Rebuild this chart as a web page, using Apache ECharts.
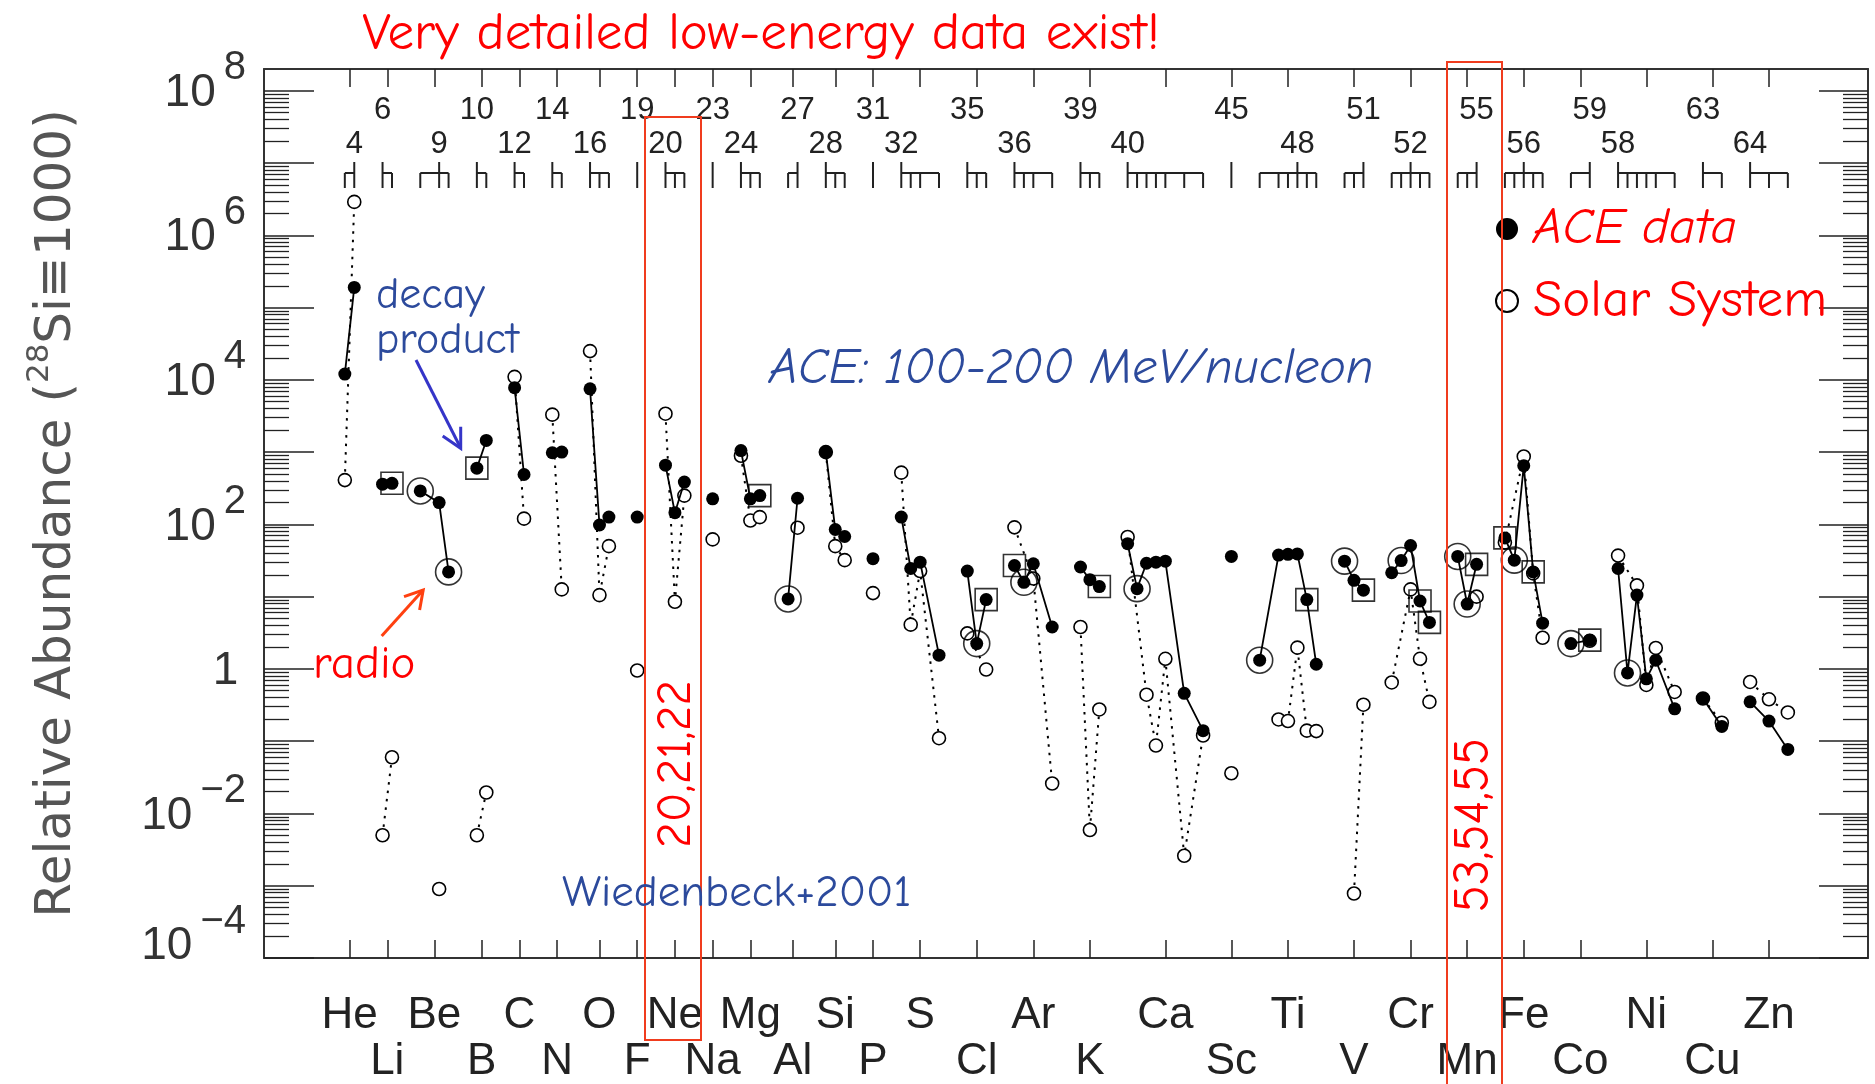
<!DOCTYPE html>
<html><head><meta charset="utf-8">
<script src="https://cdn.jsdelivr.net/npm/echarts@6/dist/echarts.min.js"></script>
<style>html,body{margin:0;padding:0;background:#fff}#c{width:1875px;height:1084px}</style>
</head><body><div id="c"></div>
<script>
// ---------------- data ----------------
const elementNames = ['He','Li','Be','B','C','N','O','F','Ne','Na','Mg','Al','Si','P','S','Cl','Ar','K','Ca','Sc','Ti','V','Cr','Mn','Fe','Co','Ni','Cu','Zn'];
const elementZ = [2,3,4,5,6,7,8,9,10,11,12,13,14,15,16,17,18,19,20,21,22,23,24,25,26,27,28,29,30];
// isotope layout on the x axis: first slot of each element, lightest and heaviest mass drawn
const elementStartX = [0,4,8,14,18,22,26,31,34,39,42,47,51,56,59,66,71,78,83,94,97,106,111,118,123,130,135,144,149];
const elementFirstMass = [3,6,7,10,12,14,16,19,20,23,24,26,28,31,32,35,36,39,40,45,44,49,50,53,54,57,58,63,64];
const elementLastMass  = [4,7,10,11,13,15,18,19,22,23,26,27,30,31,36,37,40,41,48,45,50,51,54,55,58,59,64,65,68];
// mass number printed on the top axis for each element
const labelMass = [4,6,9,10,12,14,16,19,20,23,24,27,28,31,32,35,36,39,40,45,48,51,52,55,56,59,58,63,64];
// isotopes marked in the small glyph row under the top axis
const glyphIsotopes = [[3,4],[6,7],[7,9,10],[10,11],[12,13],[14,15],[16,17,18],[19],[20,21,22],[23],[24,25,26],[26,27],[28,29,30],[31],[32,33,34,36],[35,36,37],[36,37,38,40],[39,40,41],[40,41,42,43,44,46,48],[45],[44,46,47,48,49,50],[49,50,51],[50,51,52,53,54],[53,54,55],[54,55,56,57,58],[57,59],[58,59,60,61,62,64],[63,65],[64,66,68]];

// ACE measured abundances (filled points)
const aceMass = [[3,4],[6,7],[7,9,10],[10,11],[12,13],[14,15],[16,17,18],[19],[20,21,22],[23],[24,25,26],[26,27],[28,29,30],[31],[32,33,34,36],[35,36,37],[36,37,38,40],[39,40,41],[40,41,42,43,44,46,48],[45],[44,46,47,48,49,50],[49,50,51],[50,51,52,53,54],[53,54,55],[54,55,56,57,58],[57,59],[58,59,60,61,62,64],[63,65],[64,66,68]];
const aceValue = [[1.2e4,1.9e5],[360,370],[290,200,22],[600,1450],[7800,490],[980,1000],[7500,98,126],[126],[660,145,385],[226],[1050,226,250],[9.3,230],[1000,85,68],[33.5],[126,24.5,30,1.55],[22.6,2.24,9.1],[27,15.8,28.5,3.8],[25.7,17.2,13.8],[54,12.9,29,30,31,0.46,0.14],[36],[1.32,37.6,38.5,39,9.1,1.16],[31,16.8,12.3],[21.4,31.6,51,8.7,4.4],[36,7.9,28],[65,32,650,22,4.3],[2.24,2.5],[24.5,0.88,10.5,0.73,1.32,0.28],[0.39,0.16],[0.35,0.19,0.077]];
// Solar System abundances (open points)
const solarMass = [[3,4],[6,7],[9],[10,11],[12,13],[14,15],[16,17,18],[19],[20,21,22],[23],[24,25,26],[27],[28,29,30],[31],[32,33,34,36],[35,37],[36,38,40],[39,40,41],[40,42,43,44,46,48],[45],[46,47,48,49,50],[50,51],[50,52,53,54],[55],[54,56,57,58],[59],[58,60,61,62,64],[63,65],[64,66,68]];
const solarValue = [[410,2.9e6],[5e-3,6e-2],[9e-4],[5e-3,1.95e-2],[1.1e4,120],[3300,12.6],[2.5e4,10.5,50],[0.95],[3400,8.5,250],[62],[890,113,126],[90],[1000,50,32],[11.2],[520,4.1,22.6,0.11],[3.1,0.98],[91,17.8,0.026],[3.8,5.9e-3,0.275],[67,0.44,0.087,1.38,2.6e-3,0.12],[0.036],[0.20,0.19,1.97,0.14,0.138],[7.8e-4,0.32],[0.65,12.6,1.38,0.35],[10],[56,870,21,2.7],[2.45],[37,14.3,0.6,1.95,0.48],[0.39,0.18],[0.66,0.38,0.25]];
// special markers
const radioIsotopes = [['Be',7],['Be',10],['Al',26],['Cl',36],['Ar',37],['Ca',41],['Ti',44],['V',49],['Cr',51],['Mn',53],['Mn',54],['Fe',55],['Co',57],['Ni',59]];
const decayProductIsotopes = [['Li',7],['B',10],['Mg',26],['Cl',37],['Ar',36],['K',41],['Ti',49],['V',51],['Cr',53],['Cr',54],['Mn',55],['Fe',54],['Fe',57],['Co',59]];
// y axis ticks
const yMajorTicks = [1e-4,1e-3,1e-2,1e-1,1,1e1,1e2,1e3,1e4,1e5,1e6,1e7,1e8];
const yLabelTicks = [1e-2,1,1e2,1e4,1e6,1e8];
const yBottomLabelTicks = [1e-4];
const yMinorTicks = [];
for (let n = -4; n <= 7; n++) for (let k = 2; k <= 9; k++) yMinorTicks.push(k * Math.pow(10, n));

// ---------------- helpers ----------------
const FONT_AXIS = '"Liberation Sans", Arial, sans-serif';
const FONT_NOTE = '"Comic Sans MS", "Comic Neue", "Noto Sans", sans-serif';
const slotOf = (i, A) => elementStartX[i] + (A - elementFirstMass[i]);
const elementCenters = elementNames.map((_, i) => (slotOf(i, elementFirstMass[i]) + slotOf(i, elementLastMass[i])) / 2);
const evenCenters = elementCenters.filter((c, i) => elementZ[i] % 2 === 0);
const oddCenters = elementCenters.filter((c, i) => elementZ[i] % 2 === 1);
const labelSlots = labelMass.map((A, i) => slotOf(i, A));
const bottomLabelMap = {}, topLabelMap = {};
elementCenters.forEach((c, i) => { bottomLabelMap[c.toFixed(2)] = elementNames[i]; });
labelSlots.forEach((s, i) => { topLabelMap[s.toFixed(2)] = (elementZ[i] % 2 === 0 ? '\n' : '') + labelMass[i]; });
const aceOf = (el, A) => { const i = elementNames.indexOf(el); return [slotOf(i, A), aceValue[i][aceMass[i].indexOf(A)]]; };

const X_MIN = -8.57, X_MAX = 161.5;
const Y_MIN = 1e-4, Y_MAX = 2e8;
const AX = '#333';

const series = [];
// glyph row (isotope marks) under the top axis
series.push({
  type: 'custom', xAxisIndex: 0, yAxisIndex: 0, silent: true, z: 2, clip: false,
  data: elementCenters.map(c => [c, 1]),
  renderItem: (params, api) => {
    const i = params.dataIndex;
    const top = params.coordSys.y;
    const px = A => api.coord([slotOf(i, A), 1])[0];
    const isos = glyphIsotopes[i];
    const barY = top + 104, baseY = top + 119, tallY = top + 93;
    const st = { stroke: '#222', lineWidth: 2 };
    const ch = [];
    if (isos.length > 1) ch.push({ type: 'line', shape: { x1: px(isos[0]), y1: barY, x2: px(isos[isos.length - 1]), y2: barY }, style: st });
    isos.forEach(A => ch.push({ type: 'line', shape: { x1: px(A), y1: A === labelMass[i] ? tallY : barY, x2: px(A), y2: baseY }, style: st }));
    return { type: 'group', children: ch };
  }
});
elementNames.forEach((el, i) => {
  series.push({
    name: 'Solar System', type: 'line', z: 3, animation: false,
    data: solarMass[i].map((A, j) => [slotOf(i, A), solarValue[i][j]]),
    symbol: 'circle', symbolSize: 13,
    itemStyle: { color: '#fff', borderColor: '#000', borderWidth: 1.6 },
    lineStyle: { color: '#000', width: 2, type: [2.5, 6] },
    emphasis: { disabled: true }
  });
});
elementNames.forEach((el, i) => {
  series.push({
    name: 'ACE data', type: 'line', z: 5, animation: false,
    data: aceMass[i].map((A, j) => [slotOf(i, A), aceValue[i][j]]),
    symbol: 'circle', symbolSize: 13,
    itemStyle: { color: '#000' },
    lineStyle: { color: '#000', width: 1.8 },
    emphasis: { disabled: true }
  });
});
series.push({
  name: 'radio', type: 'scatter', z: 6, animation: false,
  data: radioIsotopes.map(([el, A]) => aceOf(el, A)),
  symbol: 'circle', symbolSize: 26,
  itemStyle: { color: 'rgba(0,0,0,0)', borderColor: '#000', borderWidth: 1.6 },
  emphasis: { disabled: true }
});
series.push({
  name: 'decay', type: 'scatter', z: 6, animation: false,
  data: decayProductIsotopes.map(([el, A]) => aceOf(el, A)),
  symbol: 'rect', symbolSize: 22,
  itemStyle: { color: 'rgba(0,0,0,0)', borderColor: '#000', borderWidth: 1.6 },
  emphasis: { disabled: true }
});

const yLabelFmt = v => {
  const e = Math.round(Math.log10(v));
  if (e === 0) return '{b|1}{e|  }';
  return '{b|10}{s|' + (e < 0 ? '\u2212' : '') + Math.abs(e) + '}';
};
const yRich = {
  b: { fontSize: 46, lineHeight: 68, fontFamily: FONT_AXIS, color: AX, verticalAlign: 'bottom' },
  s: { fontSize: 40, fontFamily: FONT_AXIS, color: AX, verticalAlign: 'top', padding: [0, 0, 0, 8] },
  e: { fontSize: 14, fontFamily: FONT_AXIS, verticalAlign: 'bottom' }
};
const yBase = {
  type: 'log', logBase: 10, min: Y_MIN, max: Y_MAX, splitLine: { show: false },
  axisLine: { onZero: false, show: false }, axisLabel: { show: false }, axisTick: { show: false }
};
const xBottomLabel = (vals, margin) => ({
  customValues: vals, margin: margin, fontSize: 44, lineHeight: 46, fontFamily: FONT_AXIS, color: '#222',
  showMinLabel: true, showMaxLabel: true, hideOverlap: false,
  formatter: v => bottomLabelMap[Number(v).toFixed(2)] || ''
});

const option = {
  animation: false,
  backgroundColor: '#fff',
  grid: { left: 264, right: 7, top: 69, bottom: 126, containLabel: false, outerBoundsMode: 'none' },
  legend: {
    orient: 'vertical', left: 1495, top: 201, padding: 0, itemWidth: 22, itemHeight: 22, itemGap: 16,
    selectedMode: false,
    data: [
      { name: 'ACE data', icon: 'circle', itemStyle: { color: '#000', borderWidth: 0 }, textStyle: { fontStyle: 'italic', fontSize: 51 } },
      { name: 'Solar System', icon: 'circle', itemStyle: { color: '#fff', borderColor: '#000', borderWidth: 2 }, textStyle: { fontSize: 53 } }
    ],
    textStyle: { color: '#ff0000', fontSize: 52, lineHeight: 56, fontFamily: FONT_NOTE, padding: [0, 0, 0, 10] }
  },
  xAxis: [
    {
      type: 'value', position: 'bottom', min: X_MIN, max: X_MAX, splitLine: { show: false },
      axisLine: { onZero: false, lineStyle: { color: AX, width: 2 } },
      axisTick: { customValues: elementCenters, inside: true, length: 18, lineStyle: { color: '#222', width: 1.5 } },
      axisLabel: xBottomLabel(evenCenters, 35)
    },
    {
      type: 'value', position: 'top', min: X_MIN, max: X_MAX, splitLine: { show: false },
      axisLine: { onZero: false, lineStyle: { color: AX, width: 2 } },
      axisTick: { customValues: elementCenters, inside: true, length: 18, lineStyle: { color: '#222', width: 1.5 } },
      axisLabel: {
        customValues: labelSlots, inside: true, margin: 24, fontSize: 31, lineHeight: 34, fontFamily: FONT_AXIS, color: '#222',
        showMinLabel: true, showMaxLabel: true, hideOverlap: false,
        formatter: v => topLabelMap[Number(v).toFixed(2)] || ''
      }
    },
    {
      type: 'value', position: 'bottom', min: X_MIN, max: X_MAX, splitLine: { show: false },
      axisLine: { onZero: false, show: false },
      axisTick: { show: false },
      axisLabel: xBottomLabel(oddCenters, 81)
    }
  ],
  yAxis: [
    Object.assign({}, yBase, {
      position: 'left',
      axisLine: { onZero: false, show: true, lineStyle: { color: AX, width: 2 } },
      axisTick: { show: true, customValues: yMajorTicks, inside: true, length: 50, lineStyle: { color: '#222', width: 1.5 } },
      axisLabel: { show: true, customValues: yLabelTicks, margin: 18, padding: [0, 0, 17, 0], formatter: yLabelFmt, rich: yRich, showMinLabel: true, showMaxLabel: true },
      name: '{t|Relative Abundance (}{s|28}{t|Si\u22611000)}',
      nameLocation: 'middle', nameGap: 182, nameRotate: 90,
      nameTextStyle: {
        rich: {
          t: { fontSize: 50, lineHeight: 58, fontFamily: '"DejaVu Sans", sans-serif', color: '#555', verticalAlign: 'bottom' },
          s: { fontSize: 31, fontFamily: '"DejaVu Sans", sans-serif', color: '#555', verticalAlign: 'top' }
        }
      }
    }),
    Object.assign({}, yBase, {
      position: 'right',
      axisLine: { onZero: false, show: true, lineStyle: { color: AX, width: 2 } },
      axisTick: { show: true, customValues: yMajorTicks, inside: true, length: 49, lineStyle: { color: '#222', width: 1.5 } }
    }),
    Object.assign({}, yBase, {
      position: 'left',
      axisTick: { show: true, customValues: yMinorTicks, inside: true, length: 25, lineStyle: { color: '#222', width: 1.3 } }
    }),
    Object.assign({}, yBase, {
      position: 'right',
      axisTick: { show: true, customValues: yMinorTicks, inside: true, length: 25, lineStyle: { color: '#222', width: 1.3 } }
    }),
    Object.assign({}, yBase, {
      position: 'left',
      axisLabel: { show: true, customValues: yBottomLabelTicks, margin: 18, padding: [0, 0, 45, 0], formatter: yLabelFmt, rich: yRich, showMinLabel: true }
    })
  ],
  series: series,
  graphic: [
    { type: 'text', x: 761, y: 34, z: 100, style: { text: 'Very detailed low-energy data exist!', fill: '#ff0000', font: '53px ' + FONT_NOTE, align: 'center', verticalAlign: 'middle', textAlign: 'center', textVerticalAlign: 'middle' } },
    { type: 'text', x: 376, y: 296, z: 100, style: { text: 'decay', fill: '#2c4a9c', font: '44px ' + FONT_NOTE, align: 'left', verticalAlign: 'middle', textAlign: 'left', textVerticalAlign: 'middle' } },
    { type: 'text', x: 376, y: 341, z: 100, style: { text: 'product', fill: '#2c4a9c', font: '44px ' + FONT_NOTE, align: 'left', verticalAlign: 'middle', textAlign: 'left', textVerticalAlign: 'middle' } },
    { type: 'text', x: 769, y: 369, z: 100, style: { text: 'ACE: 100-200 MeV/nucleon', fill: '#2c4a9c', font: 'italic 50px ' + FONT_NOTE, align: 'left', verticalAlign: 'middle', textAlign: 'left', textVerticalAlign: 'middle' } },
    { type: 'text', x: 562, y: 893, z: 100, style: { text: 'Wiedenbeck+2001', fill: '#2c4a9c', font: '45px ' + FONT_NOTE, align: 'left', verticalAlign: 'middle', textAlign: 'left', textVerticalAlign: 'middle' } },
    { type: 'text', x: 313, y: 665, z: 100, style: { text: 'radio', fill: '#ff0000', font: '47px ' + FONT_NOTE, align: 'left', verticalAlign: 'middle', textAlign: 'left', textVerticalAlign: 'middle' } },
    { type: 'text', x: 676, y: 764, rotation: Math.PI / 2, z: 100, style: { text: '20,21,22', fill: '#ff0000', font: '49px ' + FONT_NOTE, align: 'center', verticalAlign: 'middle', textAlign: 'center', textVerticalAlign: 'middle' } },
    { type: 'text', x: 1474, y: 825, rotation: Math.PI / 2, z: 100, style: { text: '53,54,55', fill: '#ff0000', font: '50px ' + FONT_NOTE, align: 'center', verticalAlign: 'middle', textAlign: 'center', textVerticalAlign: 'middle' } },
    { type: 'rect', z: 99, shape: { x: 645, y: 117, width: 56, height: 923 }, style: { fill: 'none', stroke: '#f03c1e', lineWidth: 2 } },
    { type: 'rect', z: 99, shape: { x: 1447, y: 62, width: 55, height: 1030 }, style: { fill: 'none', stroke: '#f03c1e', lineWidth: 2 } },
    { type: 'line', z: 100, shape: { x1: 416, y1: 360, x2: 460.7, y2: 448 }, style: { stroke: '#3535c8', lineWidth: 3 } },
    { type: 'polyline', z: 100, shape: { points: [[442.7, 436], [460.7, 448.3], [460.7, 426.7]] }, style: { stroke: '#3535c8', lineWidth: 3, fill: 'none' } },
    { type: 'line', z: 100, shape: { x1: 381.7, y1: 636, x2: 423.2, y2: 590 }, style: { stroke: '#ff4010', lineWidth: 3 } },
    { type: 'polyline', z: 100, shape: { points: [[404, 596.7], [423.2, 590], [419.6, 610]] }, style: { stroke: '#ff4010', lineWidth: 3, fill: 'none' } }
  ]
};

const chart = echarts.init(document.getElementById('c'), null, { renderer: 'canvas' });
chart.setOption(option);
</script>
</body></html>
